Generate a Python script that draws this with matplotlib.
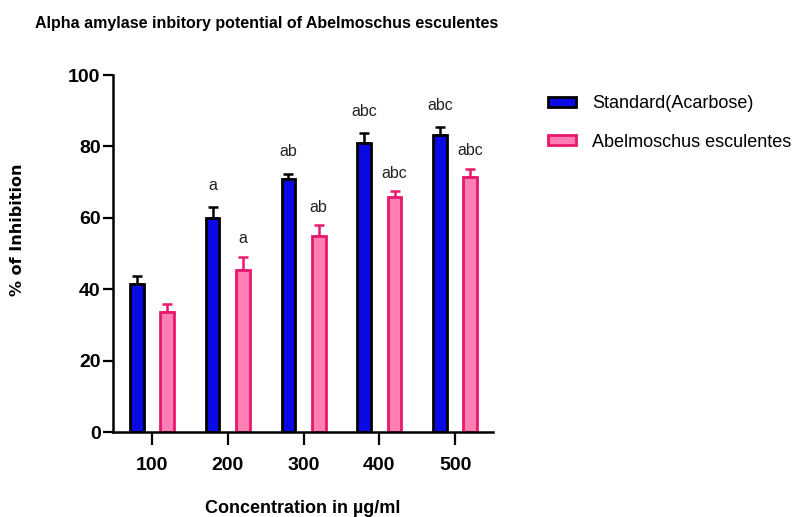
import numpy as np
import matplotlib.pyplot as plt

plt.rcParams['font.family'] = ['Liberation Sans', 'DejaVu Sans']

# Alpha amilaz inhibisyon verileri
konsantrasyon = ['100', '200', '300', '400', '500']
standart = [41.5, 59.9, 70.9, 80.9, 83.2]
standart_hata = [2.2, 3.1, 1.5, 2.9, 2.3]
bitki = [33.6, 45.4, 55.0, 65.9, 71.3]
bitki_hata = [2.3, 3.7, 2.9, 1.5, 2.4]
standart_harf = ['', 'a', 'ab', 'abc', 'abc']
bitki_harf = ['', 'a', 'ab', 'abc', 'abc']

fig = plt.figure(figsize=(7.92, 5.17), dpi=100)
ax = fig.add_axes([0.1427, 0.1644, 0.4798, 0.6905])

x = np.arange(len(konsantrasyon))
w = 0.18
ax.bar(x - 0.2, standart, w, color='#0a0ae6', edgecolor='black', linewidth=2,
       label='Standard(Acarbose)', zorder=2)
ax.errorbar(x - 0.2, standart, yerr=[np.zeros(5), standart_hata], fmt='none',
            ecolor='black', elinewidth=1.8, capsize=3.5, capthick=1.8, zorder=1)
ax.bar(x + 0.2, bitki, w, color='#ff7fb2', edgecolor='#e8186f', linewidth=2,
       label='Abelmoschus esculentes', zorder=2)
ax.errorbar(x + 0.2, bitki, yerr=[np.zeros(5), bitki_hata], fmt='none',
            ecolor='#e8186f', elinewidth=1.8, capsize=3.5, capthick=1.8, zorder=1)

for i in range(len(x)):
    if standart_harf[i]:
        ax.text(x[i] - 0.2, standart[i] + standart_hata[i] + 4, standart_harf[i],
                ha='center', va='bottom', fontsize=11.5, color='#222222')
    if bitki_harf[i]:
        ax.text(x[i] + 0.2, bitki[i] + bitki_hata[i] + 3, bitki_harf[i],
                ha='center', va='bottom', fontsize=11.5, color='#222222')

ax.set_xlim(-0.515, 4.5)
ax.set_ylim(0, 100)
ax.set_yticks([0, 20, 40, 60, 80, 100])
ax.set_xticks(x)
ax.set_xticklabels(konsantrasyon)
for s in ['top', 'right']:
    ax.spines[s].set_visible(False)
for s in ['left', 'bottom']:
    ax.spines[s].set_linewidth(1.8)
ax.tick_params(axis='y', length=7, width=1.6, labelsize=14, pad=2)
ax.tick_params(axis='x', length=9, width=1.6, labelsize=14, pad=9)
for t in ax.get_xticklabels() + ax.get_yticklabels():
    t.set_fontweight('bold')

ax.set_xlabel('Concentration in µg/ml', fontsize=13, fontweight='bold', labelpad=19)
fig.text(0.022, 0.555, '% of Inhibition', rotation=90, fontsize=11.5,
         fontweight='bold', family='DejaVu Sans', ha='center', va='center')
fig.text(0.044, 0.954, 'Alpha amylase inbitory potential of Abelmoschus esculentes',
         fontsize=11.5, fontweight='bold', ha='left', va='center')

fig.legend(loc='upper left', bbox_to_anchor=(0.683, 0.83), frameon=False,
           fontsize=13, handlelength=1.55, handleheight=0.45, labelspacing=1.2,
           handletextpad=0.9, borderaxespad=0)

fig.savefig('out.png', dpi=100)
